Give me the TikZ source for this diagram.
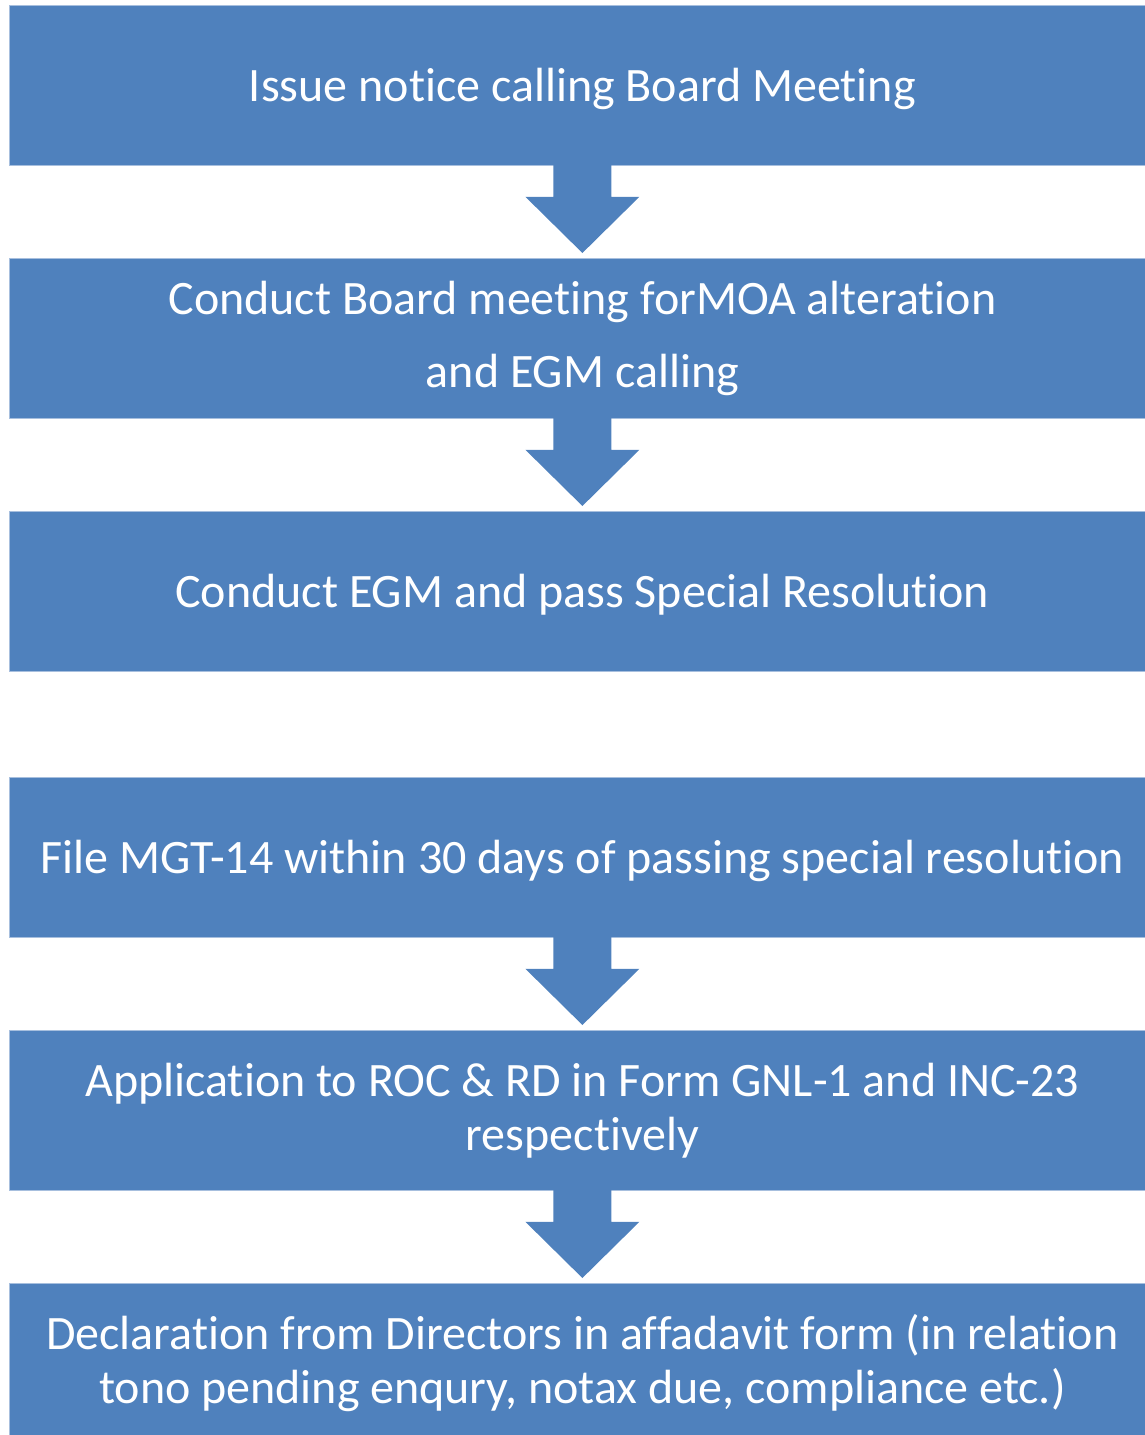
\documentclass[tikz,border=0pt]{standalone}
\usepackage{fontspec}
\setmainfont[Ligatures=NoCommon,RawFeature={-liga;-clig;-calt;-dlig}]{Carlito}
\usetikzlibrary{calc}
\definecolor{boxblue}{HTML}{4F81BD}
\definecolor{boxedge}{HTML}{A7BFDE}
\begin{document}
\begin{tikzpicture}[x=1pt,y=-1pt,
  stepbox/.style={fill=boxblue, draw=boxedge, line width=0.8pt,
    minimum width=1146pt, minimum height=160pt, inner sep=0pt,
    text=white, font=\fontsize{48}{54}\selectfont, align=center,
    anchor=north west, execute at begin node={\rule{0pt}{40pt}}},
  arrowfill/.style={fill=boxblue}]
\useasboundingbox (0,0) rectangle (1145,1435);
\node[stepbox] (b1) at (9,5) {Issue notice calling Board Meeting};
\node[stepbox] (b2) at (9,258) {Conduct Board meeting forMOA alteration\\[19pt]and EGM calling};
\node[stepbox] (b3) at (9,511) {Conduct EGM and pass Special Resolution};
\node[stepbox] (b4) at (9,777) {File MGT-14 within 30 days of passing special resolution};
\node[stepbox] (b5) at (9,1030) {Application to ROC \& RD in Form GNL-1 and INC-23\\respectively};
\node[stepbox] (b6) at (9,1283) {Declaration from Directors in affadavit form (in relation\\tono pending enqury, notax due, compliance etc.)};
\foreach \a/\b in {b1/b2,b2/b3,b4/b5,b5/b6}
  \fill[arrowfill] ($(\a.south)+(-29,-1)$) -- ($(\a.south)+(-29,31)$)
    -- ($(\a.south)+(-57,31)$) -- ($(\b.north)+(0,-5)$)
    -- ($(\a.south)+(57,31)$) -- ($(\a.south)+(29,31)$)
    -- ($(\a.south)+(29,-1)$) -- cycle;
\end{tikzpicture}
\end{document}
